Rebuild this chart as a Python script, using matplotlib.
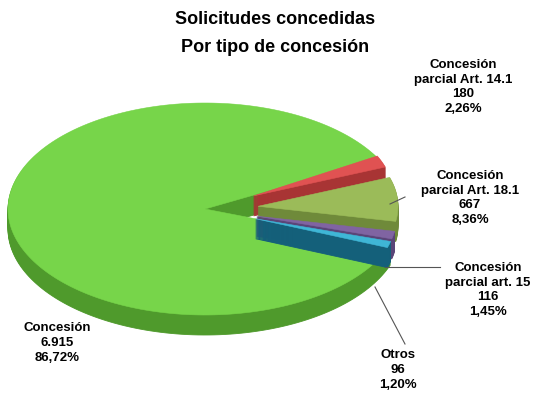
import numpy as np
import matplotlib
matplotlib.use("Agg")
import matplotlib.pyplot as plt
from matplotlib.patches import Polygon

labels = ["Concesión\nparcial Art. 14.1", "Concesión\nparcial Art. 18.1", "Concesión\nparcial art. 15", "Otros", "Concesión"]
values = [180, 667, 116, 96, 6915]
pcts = ["2,26%", "8,36%", "1,45%", "1,20%", "86,72%"]
counts = ["180", "667", "116", "96", "6.915"]
tops = ["#e05252", "#9bbb59", "#8064a2", "#3fb6d6", "#77d54a"]
sides = ["#a83434", "#6f8a3a", "#5a4578", "#14607a", "#4f9a2c"]
explode = [0.38, 0.38, 0.38, 0.38, 0.0]

plt.rcParams['font.family'] = ['Liberation Sans', 'DejaVu Sans']
fig = plt.figure(figsize=(5.5, 4.14), dpi=100)
ax = fig.add_axes([0, 0, 1, 1])
ax.set_xlim(0, 550); ax.set_ylim(414, 0); ax.axis('off')

cx, cy, depth = 205, 210, 20
rx_big, ry_big = 197, 106
rx_s, ry_s = 140, 85
start = 28.0
total = sum(values)
angles = []
a = start
for v in values:
    span = v / total * 360
    angles.append((a, a - span))
    a -= span

def wedge_pts(a0, a1, ox, oy, rx, ry):
    th = np.radians(np.linspace(a0, a1, 200))
    xs = np.concatenate([[cx + ox], cx + ox + rx * np.cos(th)])
    ys = np.concatenate([[cy + oy], cy + oy - ry * np.sin(th)])
    return np.column_stack([xs, ys])

order = [4, 0, 1, 2, 3]
for i in order:
    a0, a1 = angles[i]
    rx, ry = (rx_big, ry_big) if i == 4 else (rx_s, ry_s)
    m = np.radians((a0 + a1) / 2)
    ox = explode[i] * rx * np.cos(m)
    oy = -explode[i] * ry * np.sin(m)
    for d in range(depth, 0, -1):
        ax.add_patch(Polygon(wedge_pts(a0, a1, ox, oy + d, rx, ry), closed=True,
                             fc=sides[i], ec=sides[i], lw=0.6))
    ax.add_patch(Polygon(wedge_pts(a0, a1, ox, oy, rx, ry), closed=True,
                         fc=tops[i], ec=tops[i], lw=0.4))

fig.text(0.5, 1 - 20/414, "Solicitudes concedidas", ha='center', va='center',
         fontsize=13, fontweight='bold')
fig.text(0.5, 1 - 48/414, "Por tipo de concesión", ha='center', va='center',
         fontsize=13, fontweight='bold')

lab_pos = [(463, 87), (470, 198), (488, 290), (398, 370), (57, 343)]
for i, (x, y) in enumerate(lab_pos):
    ax.text(x, y, f"{labels[i]}\n{counts[i]}\n{pcts[i]}", ha='center', va='center',
            fontsize=9.5, fontweight='bold', linespacing=1.3)

ax.plot([390, 405], [205, 198], color='#555555', lw=0.8)
ax.plot([385, 440], [268, 268], color='#555555', lw=0.8)
ax.plot([375, 405], [288, 345], color='#555555', lw=0.8)

fig.savefig("out.png", dpi=100)
